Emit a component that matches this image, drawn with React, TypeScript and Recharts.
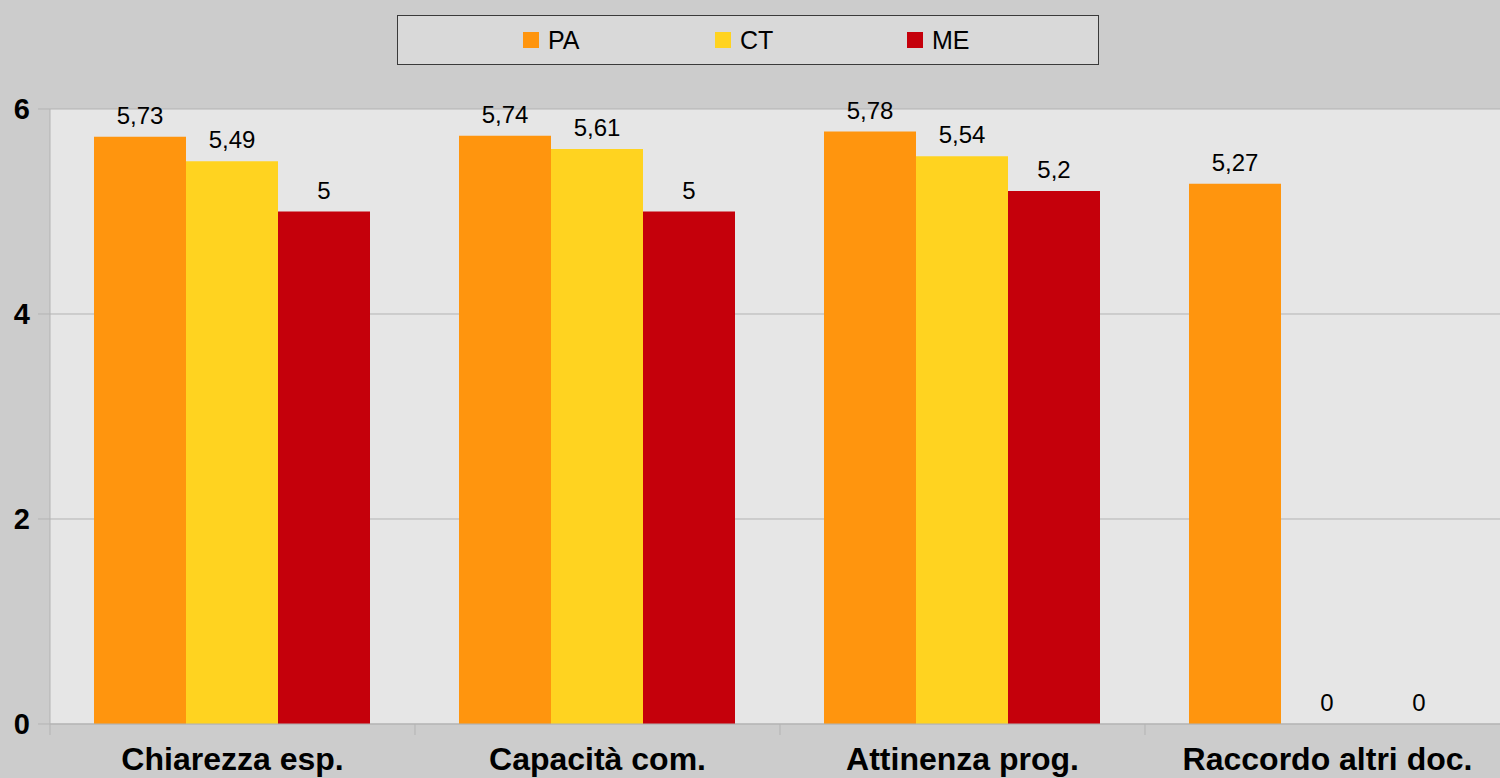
import React from "react";
import { BarChart, Bar, XAxis, YAxis, CartesianGrid, LabelList } from "recharts";

const categories = ["Chiarezza esp.", "Capacità com.", "Attinenza prog.", "Raccordo altri doc."];
const paValues = [5.73, 5.74, 5.78, 5.27];
const ctValues = [5.49, 5.61, 5.54, 0];
const meValues = [5, 5, 5.2, 0];
const yTicks = [0, 2, 4, 6];

const series = [
  { key: "PA", color: "#ff950e" },
  { key: "CT", color: "#ffd320" },
  { key: "ME", color: "#c5000b" },
];

const data = categories.map((name, i) => ({
  name,
  PA: paValues[i],
  CT: ctValues[i],
  ME: meValues[i],
}));

const FONT = "'Liberation Sans', Arial, sans-serif";

const formatValue = (v: any) => String(v).replace(".", ",");

// zero-valued bars still need a rect so their "0" label gets drawn
const tinyForZero = (v: any) => (v === 0 ? 0.01 : 0);

// category label plus a tick mark on the left edge of each category band
function CategoryTick(props: any) {
  const { x, y, payload } = props;
  const half = payload && payload.offset ? payload.offset : 182.5;
  return (
    <g>
      <line x1={x - half} y1={y} x2={x - half} y2={y + 11} stroke="#b3b3b3" strokeWidth={1} />
      <text
        x={x}
        y={y + 46}
        textAnchor="middle"
        fontSize={32}
        fontWeight="bold"
        fontFamily={FONT}
        fill="#000"
      >
        {payload.value}
      </text>
    </g>
  );
}

function LegendBox() {
  return (
    <div
      style={{
        position: "absolute",
        left: 397,
        top: 15,
        width: 700,
        height: 48,
        background: "#d9d9d9",
        border: "1px solid #3a3a3a",
        fontFamily: FONT,
        fontSize: 25,
        color: "#000",
      }}
    >
      {series.map((s, i) => (
        <div
          key={s.key}
          style={{
            position: "absolute",
            left: 125 + i * 192,
            top: 11,
            display: "flex",
            alignItems: "center",
            lineHeight: "26px",
          }}
        >
          <span style={{ display: "inline-block", width: 16, height: 16, background: s.color, marginRight: 9 }} />
          <span>{s.key}</span>
        </div>
      ))}
    </div>
  );
}

export default function App() {
  return (
    <div
      style={{
        position: "absolute",
        left: 0,
        top: 0,
        width: 1500,
        height: 778,
        overflow: "hidden",
        background: "#cccccc",
        fontFamily: FONT,
      }}
    >
      <BarChart
        width={1510}
        height={778}
        data={data}
        margin={{ top: 109, right: 0, left: 0, bottom: 0 }}
        barCategoryGap={44}
        barGap={0}
      >
        <CartesianGrid vertical={false} stroke="#b3b3b3" fill="#e6e6e6" />
        <XAxis
          dataKey="name"
          height={54}
          axisLine={{ stroke: "#b3b3b3" }}
          tickLine={false}
          tickSize={0}
          tickMargin={0}
          interval={0}
          tick={<CategoryTick />}
        />
        <YAxis
          width={50}
          domain={[0, 6]}
          ticks={yTicks}
          axisLine={{ stroke: "#b3b3b3" }}
          tickLine={{ stroke: "#b3b3b3" }}
          tickSize={12}
          tickMargin={8}
          tick={{ fontSize: 29, fontWeight: "bold", fill: "#000", fontFamily: FONT }}
        />
        {series.map((s) => (
          <Bar key={s.key} dataKey={s.key} fill={s.color} minPointSize={tinyForZero} isAnimationActive={false}>
            <LabelList
              dataKey={s.key}
              position="top"
              offset={13}
              formatter={formatValue}
              style={{ fontSize: 24, fill: "#000", fontFamily: FONT }}
            />
          </Bar>
        ))}
      </BarChart>
      <LegendBox />
    </div>
  );
}
